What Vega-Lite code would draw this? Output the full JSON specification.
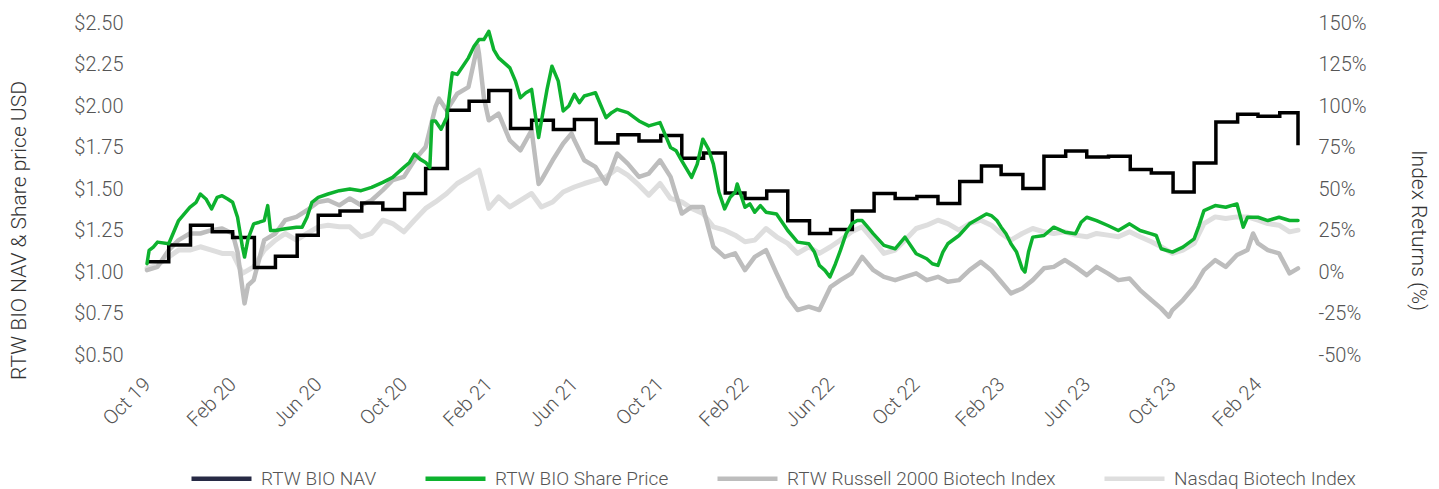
{
  "$schema": "https://vega.github.io/schema/vega-lite/v6.json",
  "width": 1151,
  "height": 332,
  "autosize": {"type": "none"},
  "padding": {"left": 147, "top": 23, "right": 141, "bottom": 134},
  "background": "#ffffff",
  "config": {
    "font": "Roboto",
    "view": {"stroke": null},
    "axis": {"grid": false, "domain": false, "ticks": false, "labelFont": "Roboto", "labelFontWeight": 300, "labelFontSize": 20, "labelColor": "#555555", "titleFont": "Roboto", "titleFontWeight": 300, "titleFontSize": 21, "titleColor": "#333333"},
    "legend": {"labelFont": "Roboto", "labelFontWeight": 300}
  },
  "datasets": {
    "nav": [
      {"date": "2019-10-30", "value": 1.061},
      {"date": "2019-11-30", "value": 1.162},
      {"date": "2019-12-31", "value": 1.282},
      {"date": "2020-01-31", "value": 1.242},
      {"date": "2020-02-29", "value": 1.208},
      {"date": "2020-03-31", "value": 1.027},
      {"date": "2020-04-30", "value": 1.095},
      {"date": "2020-05-31", "value": 1.222},
      {"date": "2020-06-30", "value": 1.342},
      {"date": "2020-07-31", "value": 1.368},
      {"date": "2020-08-31", "value": 1.416},
      {"date": "2020-09-30", "value": 1.376},
      {"date": "2020-10-31", "value": 1.473},
      {"date": "2020-11-30", "value": 1.623},
      {"date": "2020-12-31", "value": 1.974},
      {"date": "2021-01-31", "value": 2.028},
      {"date": "2021-02-28", "value": 2.094},
      {"date": "2021-03-31", "value": 1.864},
      {"date": "2021-04-30", "value": 1.914},
      {"date": "2021-05-31", "value": 1.858},
      {"date": "2021-06-30", "value": 1.918},
      {"date": "2021-07-31", "value": 1.777},
      {"date": "2021-08-31", "value": 1.827},
      {"date": "2021-09-30", "value": 1.789},
      {"date": "2021-10-31", "value": 1.823},
      {"date": "2021-11-30", "value": 1.685},
      {"date": "2021-12-31", "value": 1.717},
      {"date": "2022-01-31", "value": 1.476},
      {"date": "2022-02-28", "value": 1.443},
      {"date": "2022-03-31", "value": 1.488},
      {"date": "2022-04-30", "value": 1.308},
      {"date": "2022-05-31", "value": 1.232},
      {"date": "2022-06-30", "value": 1.256},
      {"date": "2022-07-31", "value": 1.368},
      {"date": "2022-08-31", "value": 1.473},
      {"date": "2022-09-30", "value": 1.443},
      {"date": "2022-10-31", "value": 1.455},
      {"date": "2022-11-30", "value": 1.412},
      {"date": "2022-12-31", "value": 1.545},
      {"date": "2023-01-31", "value": 1.639},
      {"date": "2023-02-28", "value": 1.587},
      {"date": "2023-03-31", "value": 1.503},
      {"date": "2023-04-30", "value": 1.697},
      {"date": "2023-05-31", "value": 1.729},
      {"date": "2023-06-30", "value": 1.693},
      {"date": "2023-07-31", "value": 1.697},
      {"date": "2023-08-31", "value": 1.617},
      {"date": "2023-09-30", "value": 1.597},
      {"date": "2023-10-31", "value": 1.482},
      {"date": "2023-11-30", "value": 1.657},
      {"date": "2023-12-31", "value": 1.903},
      {"date": "2024-01-31", "value": 1.950},
      {"date": "2024-02-29", "value": 1.938},
      {"date": "2024-03-31", "value": 1.960},
      {"date": "2024-04-26", "value": 1.763}
    ],
    "price": [
      {"date": "2019-10-30", "value": 1.05},
      {"date": "2019-11-02", "value": 1.13},
      {"date": "2019-11-08", "value": 1.15},
      {"date": "2019-11-14", "value": 1.18},
      {"date": "2019-11-30", "value": 1.17},
      {"date": "2019-12-14", "value": 1.31},
      {"date": "2019-12-30", "value": 1.39},
      {"date": "2020-01-08", "value": 1.42},
      {"date": "2020-01-14", "value": 1.47},
      {"date": "2020-01-22", "value": 1.44},
      {"date": "2020-01-30", "value": 1.38},
      {"date": "2020-02-07", "value": 1.45},
      {"date": "2020-02-14", "value": 1.46},
      {"date": "2020-02-22", "value": 1.44},
      {"date": "2020-02-29", "value": 1.42},
      {"date": "2020-03-07", "value": 1.33},
      {"date": "2020-03-14", "value": 1.15},
      {"date": "2020-03-17", "value": 1.09},
      {"date": "2020-03-22", "value": 1.20},
      {"date": "2020-03-30", "value": 1.29},
      {"date": "2020-04-07", "value": 1.30},
      {"date": "2020-04-14", "value": 1.31},
      {"date": "2020-04-19", "value": 1.40},
      {"date": "2020-04-23", "value": 1.25},
      {"date": "2020-04-30", "value": 1.25},
      {"date": "2020-05-14", "value": 1.26},
      {"date": "2020-05-30", "value": 1.27},
      {"date": "2020-06-07", "value": 1.27},
      {"date": "2020-06-14", "value": 1.33},
      {"date": "2020-06-21", "value": 1.42},
      {"date": "2020-06-30", "value": 1.45},
      {"date": "2020-07-14", "value": 1.47},
      {"date": "2020-07-30", "value": 1.49},
      {"date": "2020-08-14", "value": 1.50},
      {"date": "2020-08-30", "value": 1.49},
      {"date": "2020-09-14", "value": 1.51},
      {"date": "2020-09-30", "value": 1.54},
      {"date": "2020-10-14", "value": 1.57},
      {"date": "2020-10-22", "value": 1.60},
      {"date": "2020-10-30", "value": 1.63},
      {"date": "2020-11-07", "value": 1.66},
      {"date": "2020-11-14", "value": 1.71},
      {"date": "2020-11-22", "value": 1.68},
      {"date": "2020-11-30", "value": 1.66},
      {"date": "2020-12-06", "value": 1.63},
      {"date": "2020-12-09", "value": 1.91},
      {"date": "2020-12-14", "value": 1.91},
      {"date": "2020-12-22", "value": 1.86},
      {"date": "2020-12-30", "value": 1.93},
      {"date": "2021-01-07", "value": 2.20},
      {"date": "2021-01-14", "value": 2.19},
      {"date": "2021-01-22", "value": 2.24},
      {"date": "2021-01-30", "value": 2.29},
      {"date": "2021-02-07", "value": 2.36},
      {"date": "2021-02-14", "value": 2.40},
      {"date": "2021-02-21", "value": 2.40},
      {"date": "2021-02-28", "value": 2.45},
      {"date": "2021-03-07", "value": 2.34},
      {"date": "2021-03-14", "value": 2.29},
      {"date": "2021-03-22", "value": 2.26},
      {"date": "2021-03-30", "value": 2.23},
      {"date": "2021-04-07", "value": 2.15},
      {"date": "2021-04-14", "value": 2.05},
      {"date": "2021-04-22", "value": 2.08},
      {"date": "2021-04-30", "value": 2.10},
      {"date": "2021-05-10", "value": 1.81},
      {"date": "2021-05-14", "value": 1.91},
      {"date": "2021-05-22", "value": 2.10},
      {"date": "2021-05-29", "value": 2.24},
      {"date": "2021-06-07", "value": 2.15},
      {"date": "2021-06-14", "value": 1.97},
      {"date": "2021-06-22", "value": 2.00},
      {"date": "2021-06-30", "value": 2.07},
      {"date": "2021-07-07", "value": 2.02},
      {"date": "2021-07-14", "value": 2.06},
      {"date": "2021-07-22", "value": 2.07},
      {"date": "2021-07-30", "value": 2.08},
      {"date": "2021-08-07", "value": 2.00},
      {"date": "2021-08-14", "value": 1.93},
      {"date": "2021-08-22", "value": 1.96},
      {"date": "2021-08-30", "value": 1.98},
      {"date": "2021-09-14", "value": 1.96},
      {"date": "2021-09-30", "value": 1.91},
      {"date": "2021-10-14", "value": 1.88},
      {"date": "2021-10-30", "value": 1.90},
      {"date": "2021-11-07", "value": 1.82},
      {"date": "2021-11-14", "value": 1.75},
      {"date": "2021-11-22", "value": 1.73},
      {"date": "2021-11-30", "value": 1.67},
      {"date": "2021-12-07", "value": 1.62},
      {"date": "2021-12-14", "value": 1.57},
      {"date": "2021-12-22", "value": 1.65},
      {"date": "2021-12-30", "value": 1.80},
      {"date": "2022-01-07", "value": 1.74},
      {"date": "2022-01-14", "value": 1.65},
      {"date": "2022-01-22", "value": 1.48},
      {"date": "2022-01-30", "value": 1.38},
      {"date": "2022-02-07", "value": 1.45},
      {"date": "2022-02-14", "value": 1.48},
      {"date": "2022-02-17", "value": 1.53},
      {"date": "2022-02-28", "value": 1.39},
      {"date": "2022-03-07", "value": 1.41},
      {"date": "2022-03-14", "value": 1.36},
      {"date": "2022-03-22", "value": 1.40},
      {"date": "2022-03-30", "value": 1.36},
      {"date": "2022-04-14", "value": 1.35},
      {"date": "2022-04-22", "value": 1.30},
      {"date": "2022-04-30", "value": 1.25},
      {"date": "2022-05-14", "value": 1.18},
      {"date": "2022-05-30", "value": 1.17},
      {"date": "2022-06-07", "value": 1.12},
      {"date": "2022-06-14", "value": 1.04},
      {"date": "2022-06-22", "value": 1.01},
      {"date": "2022-06-29", "value": 0.97},
      {"date": "2022-07-07", "value": 1.05},
      {"date": "2022-07-14", "value": 1.13},
      {"date": "2022-07-22", "value": 1.23},
      {"date": "2022-07-30", "value": 1.29},
      {"date": "2022-08-07", "value": 1.31},
      {"date": "2022-08-14", "value": 1.31},
      {"date": "2022-08-22", "value": 1.27},
      {"date": "2022-08-30", "value": 1.23},
      {"date": "2022-09-14", "value": 1.16},
      {"date": "2022-09-30", "value": 1.14},
      {"date": "2022-10-14", "value": 1.21},
      {"date": "2022-10-30", "value": 1.11},
      {"date": "2022-11-14", "value": 1.08},
      {"date": "2022-11-22", "value": 1.05},
      {"date": "2022-11-30", "value": 1.04},
      {"date": "2022-12-07", "value": 1.12},
      {"date": "2022-12-14", "value": 1.17},
      {"date": "2022-12-30", "value": 1.22},
      {"date": "2023-01-14", "value": 1.29},
      {"date": "2023-01-30", "value": 1.33},
      {"date": "2023-02-07", "value": 1.35},
      {"date": "2023-02-14", "value": 1.34},
      {"date": "2023-02-22", "value": 1.31},
      {"date": "2023-02-28", "value": 1.27},
      {"date": "2023-03-07", "value": 1.23},
      {"date": "2023-03-14", "value": 1.17},
      {"date": "2023-03-22", "value": 1.12},
      {"date": "2023-03-30", "value": 1.02},
      {"date": "2023-04-03", "value": 1.00},
      {"date": "2023-04-08", "value": 1.12},
      {"date": "2023-04-14", "value": 1.21},
      {"date": "2023-04-30", "value": 1.22},
      {"date": "2023-05-14", "value": 1.27},
      {"date": "2023-05-30", "value": 1.24},
      {"date": "2023-06-14", "value": 1.23},
      {"date": "2023-06-22", "value": 1.30},
      {"date": "2023-06-30", "value": 1.33},
      {"date": "2023-07-14", "value": 1.31},
      {"date": "2023-07-30", "value": 1.28},
      {"date": "2023-08-14", "value": 1.25},
      {"date": "2023-08-30", "value": 1.29},
      {"date": "2023-09-14", "value": 1.25},
      {"date": "2023-09-30", "value": 1.23},
      {"date": "2023-10-07", "value": 1.22},
      {"date": "2023-10-14", "value": 1.14},
      {"date": "2023-10-30", "value": 1.12},
      {"date": "2023-11-14", "value": 1.15},
      {"date": "2023-11-30", "value": 1.20},
      {"date": "2023-12-07", "value": 1.28},
      {"date": "2023-12-14", "value": 1.37},
      {"date": "2023-12-30", "value": 1.40},
      {"date": "2024-01-14", "value": 1.39},
      {"date": "2024-01-30", "value": 1.41},
      {"date": "2024-02-08", "value": 1.27},
      {"date": "2024-02-14", "value": 1.33},
      {"date": "2024-02-29", "value": 1.33},
      {"date": "2024-03-14", "value": 1.31},
      {"date": "2024-03-30", "value": 1.33},
      {"date": "2024-04-14", "value": 1.31},
      {"date": "2024-04-26", "value": 1.31}
    ],
    "r2000": [
      {"date": "2019-10-30", "value": 1.1},
      {"date": "2019-11-14", "value": 3.1},
      {"date": "2019-11-30", "value": 13.2},
      {"date": "2019-12-14", "value": 19.2},
      {"date": "2019-12-30", "value": 23.2},
      {"date": "2020-01-14", "value": 23.2},
      {"date": "2020-01-30", "value": 25.2},
      {"date": "2020-02-14", "value": 26.2},
      {"date": "2020-02-29", "value": 23.2},
      {"date": "2020-03-07", "value": 12.0},
      {"date": "2020-03-14", "value": -10.0},
      {"date": "2020-03-17", "value": -18.9},
      {"date": "2020-03-22", "value": -8.0},
      {"date": "2020-03-30", "value": -4.9},
      {"date": "2020-04-07", "value": 8.0},
      {"date": "2020-04-14", "value": 19.2},
      {"date": "2020-04-30", "value": 23.2},
      {"date": "2020-05-14", "value": 31.2},
      {"date": "2020-05-30", "value": 33.2},
      {"date": "2020-06-14", "value": 37.2},
      {"date": "2020-06-30", "value": 42.2},
      {"date": "2020-07-14", "value": 43.2},
      {"date": "2020-07-30", "value": 40.2},
      {"date": "2020-08-14", "value": 44.3},
      {"date": "2020-08-30", "value": 40.2},
      {"date": "2020-09-14", "value": 43.2},
      {"date": "2020-09-30", "value": 49.3},
      {"date": "2020-10-14", "value": 55.3},
      {"date": "2020-10-30", "value": 57.3},
      {"date": "2020-11-14", "value": 67.3},
      {"date": "2020-11-30", "value": 75.3},
      {"date": "2020-12-14", "value": 99.4},
      {"date": "2020-12-19", "value": 104.4},
      {"date": "2020-12-30", "value": 97.4},
      {"date": "2021-01-14", "value": 107.4},
      {"date": "2021-01-30", "value": 111.4},
      {"date": "2021-02-12", "value": 136.5},
      {"date": "2021-02-14", "value": 131.5},
      {"date": "2021-02-21", "value": 105.0},
      {"date": "2021-02-28", "value": 91.4},
      {"date": "2021-03-14", "value": 95.4},
      {"date": "2021-03-30", "value": 79.3},
      {"date": "2021-04-14", "value": 73.3},
      {"date": "2021-04-30", "value": 85.4},
      {"date": "2021-05-10", "value": 53.0},
      {"date": "2021-05-14", "value": 55.3},
      {"date": "2021-05-30", "value": 67.3},
      {"date": "2021-06-14", "value": 77.4},
      {"date": "2021-06-26", "value": 83.4},
      {"date": "2021-06-30", "value": 79.3},
      {"date": "2021-07-14", "value": 67.3},
      {"date": "2021-07-30", "value": 63.3},
      {"date": "2021-08-14", "value": 53.3},
      {"date": "2021-08-30", "value": 71.3},
      {"date": "2021-09-14", "value": 65.3},
      {"date": "2021-09-30", "value": 57.3},
      {"date": "2021-10-14", "value": 59.3},
      {"date": "2021-10-30", "value": 67.3},
      {"date": "2021-11-14", "value": 57.3},
      {"date": "2021-11-30", "value": 35.2},
      {"date": "2021-12-14", "value": 39.2},
      {"date": "2021-12-30", "value": 39.2},
      {"date": "2022-01-14", "value": 15.2},
      {"date": "2022-01-30", "value": 9.1},
      {"date": "2022-02-14", "value": 11.2},
      {"date": "2022-02-28", "value": 1.1},
      {"date": "2022-03-14", "value": 9.1},
      {"date": "2022-03-30", "value": 13.2},
      {"date": "2022-04-14", "value": -0.8},
      {"date": "2022-04-30", "value": -14.9},
      {"date": "2022-05-14", "value": -22.9},
      {"date": "2022-05-30", "value": -20.9},
      {"date": "2022-06-14", "value": -22.9},
      {"date": "2022-06-30", "value": -8.9},
      {"date": "2022-07-14", "value": -4.9},
      {"date": "2022-07-30", "value": -0.8},
      {"date": "2022-08-14", "value": 9.1},
      {"date": "2022-08-30", "value": 1.1},
      {"date": "2022-09-14", "value": -2.9},
      {"date": "2022-09-30", "value": -4.9},
      {"date": "2022-10-14", "value": -2.9},
      {"date": "2022-10-30", "value": -0.8},
      {"date": "2022-11-14", "value": -4.9},
      {"date": "2022-11-30", "value": -2.9},
      {"date": "2022-12-14", "value": -5.9},
      {"date": "2022-12-30", "value": -4.9},
      {"date": "2023-01-14", "value": 1.1},
      {"date": "2023-01-30", "value": 6.1},
      {"date": "2023-02-14", "value": 1.1},
      {"date": "2023-02-28", "value": -5.9},
      {"date": "2023-03-14", "value": -12.9},
      {"date": "2023-03-30", "value": -9.9},
      {"date": "2023-04-14", "value": -4.9},
      {"date": "2023-04-30", "value": 2.2},
      {"date": "2023-05-14", "value": 3.1},
      {"date": "2023-05-30", "value": 7.2},
      {"date": "2023-06-14", "value": 3.1},
      {"date": "2023-06-30", "value": -1.9},
      {"date": "2023-07-14", "value": 3.1},
      {"date": "2023-07-30", "value": -0.8},
      {"date": "2023-08-14", "value": -4.9},
      {"date": "2023-08-30", "value": -3.9},
      {"date": "2023-09-14", "value": -10.9},
      {"date": "2023-09-30", "value": -16.9},
      {"date": "2023-10-14", "value": -21.9},
      {"date": "2023-10-25", "value": -26.9},
      {"date": "2023-10-30", "value": -22.9},
      {"date": "2023-11-14", "value": -16.9},
      {"date": "2023-11-30", "value": -8.9},
      {"date": "2023-12-14", "value": 1.1},
      {"date": "2023-12-30", "value": 7.2},
      {"date": "2024-01-14", "value": 3.1},
      {"date": "2024-01-30", "value": 10.2},
      {"date": "2024-02-14", "value": 13.2},
      {"date": "2024-02-22", "value": 23.2},
      {"date": "2024-02-29", "value": 17.2},
      {"date": "2024-03-14", "value": 13.2},
      {"date": "2024-03-30", "value": 11.2},
      {"date": "2024-04-14", "value": -0.8},
      {"date": "2024-04-26", "value": 2.2}
    ],
    "nbi": [
      {"date": "2019-10-30", "value": 2.2},
      {"date": "2019-11-14", "value": 4.2},
      {"date": "2019-11-30", "value": 9.1},
      {"date": "2019-12-14", "value": 13.2},
      {"date": "2019-12-30", "value": 13.2},
      {"date": "2020-01-14", "value": 15.2},
      {"date": "2020-01-30", "value": 13.2},
      {"date": "2020-02-14", "value": 11.2},
      {"date": "2020-02-29", "value": 11.2},
      {"date": "2020-03-14", "value": -0.8},
      {"date": "2020-03-30", "value": 3.1},
      {"date": "2020-04-14", "value": 13.2},
      {"date": "2020-04-30", "value": 19.2},
      {"date": "2020-05-14", "value": 23.2},
      {"date": "2020-05-30", "value": 19.2},
      {"date": "2020-06-14", "value": 23.2},
      {"date": "2020-06-30", "value": 27.2},
      {"date": "2020-07-14", "value": 28.2},
      {"date": "2020-07-30", "value": 27.2},
      {"date": "2020-08-14", "value": 27.2},
      {"date": "2020-08-30", "value": 21.2},
      {"date": "2020-09-14", "value": 23.2},
      {"date": "2020-09-30", "value": 31.2},
      {"date": "2020-10-14", "value": 29.2},
      {"date": "2020-10-30", "value": 24.2},
      {"date": "2020-11-14", "value": 31.2},
      {"date": "2020-11-30", "value": 38.3},
      {"date": "2020-12-14", "value": 42.2},
      {"date": "2020-12-30", "value": 47.3},
      {"date": "2021-01-14", "value": 53.3},
      {"date": "2021-01-30", "value": 57.3},
      {"date": "2021-02-14", "value": 61.3},
      {"date": "2021-02-21", "value": 50.0},
      {"date": "2021-02-28", "value": 38.3},
      {"date": "2021-03-14", "value": 45.2},
      {"date": "2021-03-30", "value": 39.2},
      {"date": "2021-04-14", "value": 43.2},
      {"date": "2021-04-30", "value": 47.3},
      {"date": "2021-05-14", "value": 39.2},
      {"date": "2021-05-30", "value": 42.2},
      {"date": "2021-06-14", "value": 48.2},
      {"date": "2021-06-30", "value": 51.2},
      {"date": "2021-07-14", "value": 53.3},
      {"date": "2021-07-30", "value": 55.3},
      {"date": "2021-08-14", "value": 57.3},
      {"date": "2021-08-30", "value": 62.3},
      {"date": "2021-09-14", "value": 58.3},
      {"date": "2021-09-30", "value": 52.3},
      {"date": "2021-10-14", "value": 46.3},
      {"date": "2021-10-30", "value": 53.3},
      {"date": "2021-11-14", "value": 44.3},
      {"date": "2021-11-30", "value": 42.2},
      {"date": "2021-12-14", "value": 38.3},
      {"date": "2021-12-30", "value": 35.2},
      {"date": "2022-01-14", "value": 27.2},
      {"date": "2022-01-30", "value": 25.2},
      {"date": "2022-02-14", "value": 22.2},
      {"date": "2022-02-28", "value": 18.2},
      {"date": "2022-03-14", "value": 19.2},
      {"date": "2022-03-30", "value": 26.2},
      {"date": "2022-04-14", "value": 21.2},
      {"date": "2022-04-30", "value": 17.2},
      {"date": "2022-05-14", "value": 11.2},
      {"date": "2022-05-30", "value": 15.2},
      {"date": "2022-06-14", "value": 11.2},
      {"date": "2022-06-30", "value": 15.2},
      {"date": "2022-07-14", "value": 19.2},
      {"date": "2022-07-30", "value": 24.2},
      {"date": "2022-08-14", "value": 27.2},
      {"date": "2022-08-30", "value": 19.2},
      {"date": "2022-09-14", "value": 11.2},
      {"date": "2022-09-30", "value": 13.2},
      {"date": "2022-10-14", "value": 19.2},
      {"date": "2022-10-30", "value": 26.2},
      {"date": "2022-11-14", "value": 28.2},
      {"date": "2022-11-30", "value": 31.2},
      {"date": "2022-12-14", "value": 29.2},
      {"date": "2022-12-30", "value": 25.2},
      {"date": "2023-01-14", "value": 29.2},
      {"date": "2023-01-30", "value": 31.2},
      {"date": "2023-02-14", "value": 28.2},
      {"date": "2023-02-28", "value": 23.2},
      {"date": "2023-03-14", "value": 19.2},
      {"date": "2023-03-30", "value": 23.2},
      {"date": "2023-04-14", "value": 26.2},
      {"date": "2023-04-30", "value": 24.2},
      {"date": "2023-05-14", "value": 23.2},
      {"date": "2023-05-30", "value": 24.2},
      {"date": "2023-06-14", "value": 22.2},
      {"date": "2023-06-30", "value": 21.2},
      {"date": "2023-07-14", "value": 23.2},
      {"date": "2023-07-30", "value": 22.2},
      {"date": "2023-08-14", "value": 21.2},
      {"date": "2023-08-30", "value": 24.2},
      {"date": "2023-09-14", "value": 21.2},
      {"date": "2023-09-30", "value": 18.2},
      {"date": "2023-10-14", "value": 15.2},
      {"date": "2023-10-30", "value": 11.2},
      {"date": "2023-11-14", "value": 13.2},
      {"date": "2023-11-30", "value": 17.2},
      {"date": "2023-12-14", "value": 29.2},
      {"date": "2023-12-30", "value": 33.2},
      {"date": "2024-01-14", "value": 32.2},
      {"date": "2024-01-30", "value": 33.2},
      {"date": "2024-02-14", "value": 33.2},
      {"date": "2024-02-29", "value": 31.2},
      {"date": "2024-03-14", "value": 29.2},
      {"date": "2024-03-30", "value": 28.2},
      {"date": "2024-04-14", "value": 24.2},
      {"date": "2024-04-26", "value": 25.2}
    ]
  },
  "layer": [
    {
      "encoding": {
        "x": {
          "field": "date", "type": "temporal",
          "scale": {"type": "utc", "domain": [{"year": 2019, "month": 10, "date": 30, "utc": true}, {"year": 2024, "month": 4, "date": 26, "utc": true}]},
          "axis": {
            "title": null, "format": "%b %y", "labelAngle": -45, "labelAlign": "right", "labelBaseline": "middle", "labelPadding": 26, "labelOverlap": false, "labelFlush": false,
            "values": [
              {"year": 2019, "month": 10, "date": 30, "utc": true},
              {"year": 2020, "month": 2, "date": 29, "utc": true},
              {"year": 2020, "month": 6, "date": 30, "utc": true},
              {"year": 2020, "month": 10, "date": 30, "utc": true},
              {"year": 2021, "month": 2, "date": 28, "utc": true},
              {"year": 2021, "month": 6, "date": 30, "utc": true},
              {"year": 2021, "month": 10, "date": 30, "utc": true},
              {"year": 2022, "month": 2, "date": 28, "utc": true},
              {"year": 2022, "month": 6, "date": 30, "utc": true},
              {"year": 2022, "month": 10, "date": 30, "utc": true},
              {"year": 2023, "month": 2, "date": 28, "utc": true},
              {"year": 2023, "month": 6, "date": 30, "utc": true},
              {"year": 2023, "month": 10, "date": 30, "utc": true},
              {"year": 2024, "month": 2, "date": 29, "utc": true}
            ]
          }
        },
        "y": {
          "field": "value", "type": "quantitative",
          "scale": {"domain": [-50, 150], "nice": false, "zero": false},
          "axis": {
            "orient": "right", "values": [-50, -25, 0, 25, 50, 75, 100, 125, 150], "labelExpr": "datum.value + '%'", "labelPadding": 20,
            "title": "Index Returns (%)", "titleAngle": 90, "titleX": 119, "titleY": 207, "titleAlign": "center", "titleBaseline": "middle"
          }
        }
      },
      "layer": [
        {
          "data": {"name": "nbi"},
          "mark": {"type": "line", "strokeWidth": 5, "strokeJoin": "round", "strokeCap": "round"},
          "encoding": {
            "color": {"datum": "Nasdaq Biotech Index", "type": "nominal",
              "scale": {"domain": ["RTW BIO NAV", "RTW BIO Share Price", "RTW Russell 2000 Biotech Index", "Nasdaq Biotech Index"], "range": ["#272a45", "#0db22e", "#bdbdbd", "#dedede"]},
              "legend": {"orient": "none", "legendX": 42, "legendY": 423, "direction": "horizontal", "title": null, "symbolType": "stroke", "symbolSize": 3600, "symbolStrokeWidth": 4.5, "labelFontSize": 19, "labelColor": "#555555", "labelLimit": 400, "labelOffset": 7, "columnPadding": 39}
            }
          }
        },
        {
          "data": {"name": "r2000"},
          "mark": {"type": "line", "strokeWidth": 4.5, "strokeJoin": "round", "strokeCap": "round"},
          "encoding": {
            "color": {"datum": "RTW Russell 2000 Biotech Index", "type": "nominal"}
          }
        }
      ]
    },
    {
      "encoding": {
        "x": {"field": "date", "type": "temporal"},
        "y": {
          "field": "value", "type": "quantitative",
          "scale": {"domain": [0.5, 2.5], "nice": false, "zero": false},
          "axis": {
            "orient": "left", "values": [0.5, 0.75, 1, 1.25, 1.5, 1.75, 2, 2.25, 2.5], "format": "$.2f", "labelPadding": 24,
            "title": "RTW BIO NAV & Share price USD", "titleAngle": -90, "titleX": -128, "titleY": 207, "titleAlign": "center", "titleBaseline": "middle"
          }
        }
      },
      "layer": [
        {
          "data": {"name": "nav"},
          "mark": {"type": "line", "interpolate": "step-after", "strokeWidth": 3.5, "color": "#000000", "strokeJoin": "miter", "strokeCap": "butt"}
        },
        {
          "data": {"name": "price"},
          "mark": {"type": "line", "strokeWidth": 3.5, "strokeJoin": "round", "strokeCap": "round"},
          "encoding": {
            "color": {"datum": "RTW BIO Share Price", "type": "nominal"}
          }
        }
      ]
    }
  ],
  "resolve": {"scale": {"y": "independent"}}
}
